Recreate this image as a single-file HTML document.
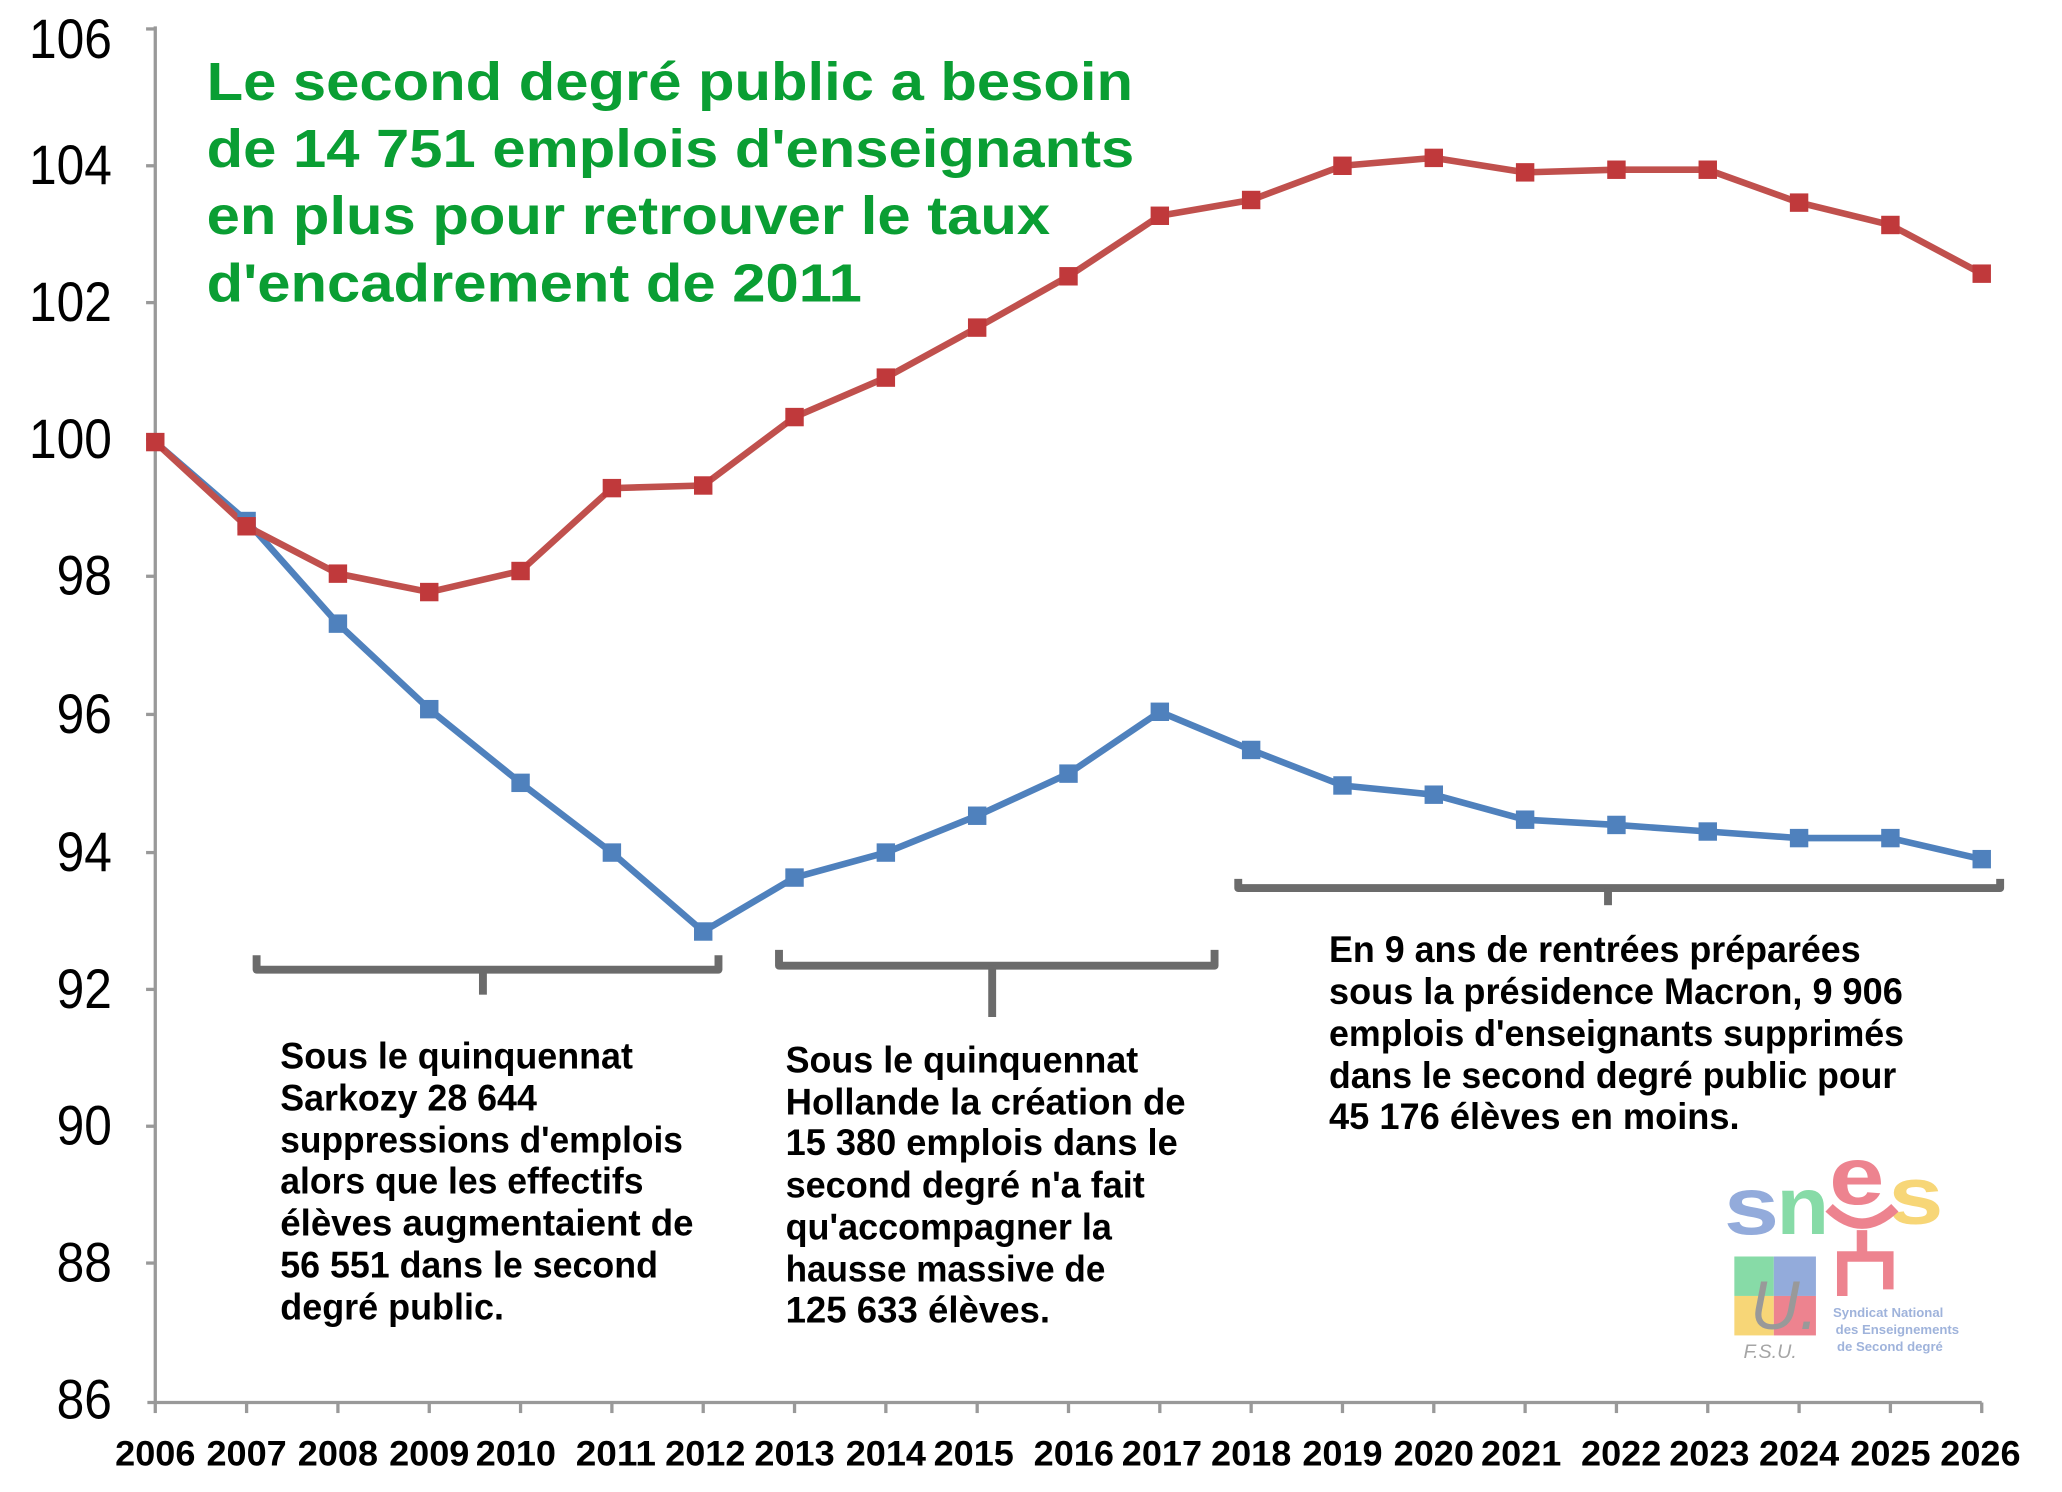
<!DOCTYPE html>
<html><head><meta charset="utf-8"><style>
html,body{margin:0;padding:0;background:#fff;}
svg{display:block;}
text{font-family:"Liberation Sans",sans-serif;}
</style></head><body>
<svg width="2062" height="1492" viewBox="0 0 1567 1134" preserveAspectRatio="none" xmlns="http://www.w3.org/2000/svg">
<rect width="1567" height="1134" fill="#fff"/>
<g stroke="#999" stroke-width="2.5" fill="none">
<line x1="118" y1="20" x2="118" y2="1066"/>
<line x1="112" y1="1066" x2="1506" y2="1066"/>
<line x1="111" y1="22" x2="118" y2="22"/><line x1="111" y1="126" x2="118" y2="126"/><line x1="111" y1="230" x2="118" y2="230"/>
<line x1="111" y1="334" x2="118" y2="334"/><line x1="111" y1="438" x2="118" y2="438"/><line x1="111" y1="543" x2="118" y2="543"/>
<line x1="111" y1="648" x2="118" y2="648"/><line x1="111" y1="752" x2="118" y2="752"/><line x1="111" y1="856" x2="118" y2="856"/>
<line x1="111" y1="960" x2="118" y2="960"/>
</g>
<g font-size="42" fill="#000" text-anchor="end">
<text x="85" y="44" textLength="63" lengthAdjust="spacingAndGlyphs">106</text>
<text x="85" y="140" textLength="63" lengthAdjust="spacingAndGlyphs">104</text>
<text x="85" y="244" textLength="63" lengthAdjust="spacingAndGlyphs">102</text>
<text x="85" y="348" textLength="63" lengthAdjust="spacingAndGlyphs">100</text>
<text x="85" y="452" textLength="42" lengthAdjust="spacingAndGlyphs">98</text>
<text x="85" y="557" textLength="42" lengthAdjust="spacingAndGlyphs">96</text>
<text x="85" y="662" textLength="42" lengthAdjust="spacingAndGlyphs">94</text>
<text x="85" y="766" textLength="42" lengthAdjust="spacingAndGlyphs">92</text>
<text x="85" y="870" textLength="42" lengthAdjust="spacingAndGlyphs">90</text>
<text x="85" y="974" textLength="42" lengthAdjust="spacingAndGlyphs">88</text>
<text x="85" y="1078" textLength="42" lengthAdjust="spacingAndGlyphs">86</text>
</g>
<g stroke="#999" stroke-width="2.5">
<line x1="118" y1="1066" x2="118" y2="1074"/><line x1="187.4" y1="1066" x2="187.4" y2="1074"/><line x1="256.8" y1="1066" x2="256.8" y2="1074"/><line x1="326.2" y1="1066" x2="326.2" y2="1074"/><line x1="395.6" y1="1066" x2="395.6" y2="1074"/><line x1="465" y1="1066" x2="465" y2="1074"/><line x1="534.4" y1="1066" x2="534.4" y2="1074"/><line x1="603.8" y1="1066" x2="603.8" y2="1074"/><line x1="673.2" y1="1066" x2="673.2" y2="1074"/><line x1="742.6" y1="1066" x2="742.6" y2="1074"/><line x1="812" y1="1066" x2="812" y2="1074"/><line x1="881.4" y1="1066" x2="881.4" y2="1074"/><line x1="950.8" y1="1066" x2="950.8" y2="1074"/><line x1="1020.2" y1="1066" x2="1020.2" y2="1074"/><line x1="1089.6" y1="1066" x2="1089.6" y2="1074"/><line x1="1159" y1="1066" x2="1159" y2="1074"/><line x1="1228.4" y1="1066" x2="1228.4" y2="1074"/><line x1="1297.8" y1="1066" x2="1297.8" y2="1074"/><line x1="1367.2" y1="1066" x2="1367.2" y2="1074"/><line x1="1436.6" y1="1066" x2="1436.6" y2="1074"/><line x1="1506" y1="1066" x2="1506" y2="1074"/>
</g>
<g font-size="27" font-weight="bold" fill="#000" text-anchor="middle">
<text x="118" y="1114" textLength="61" lengthAdjust="spacingAndGlyphs">2006</text><text x="187.4" y="1114" textLength="61" lengthAdjust="spacingAndGlyphs">2007</text><text x="256.8" y="1114" textLength="61" lengthAdjust="spacingAndGlyphs">2008</text><text x="326.2" y="1114" textLength="61" lengthAdjust="spacingAndGlyphs">2009</text><text x="392" y="1114" textLength="61" lengthAdjust="spacingAndGlyphs">2010</text><text x="468" y="1114" textLength="61" lengthAdjust="spacingAndGlyphs">2011</text><text x="536" y="1114" textLength="61" lengthAdjust="spacingAndGlyphs">2012</text><text x="603.8" y="1114" textLength="61" lengthAdjust="spacingAndGlyphs">2013</text><text x="673.2" y="1114" textLength="61" lengthAdjust="spacingAndGlyphs">2014</text><text x="740" y="1114" textLength="61" lengthAdjust="spacingAndGlyphs">2015</text><text x="816" y="1114" textLength="61" lengthAdjust="spacingAndGlyphs">2016</text><text x="883" y="1114" textLength="61" lengthAdjust="spacingAndGlyphs">2017</text><text x="950.8" y="1114" textLength="61" lengthAdjust="spacingAndGlyphs">2018</text><text x="1020.2" y="1114" textLength="61" lengthAdjust="spacingAndGlyphs">2019</text><text x="1089.6" y="1114" textLength="61" lengthAdjust="spacingAndGlyphs">2020</text><text x="1156" y="1114" textLength="61" lengthAdjust="spacingAndGlyphs">2021</text><text x="1232" y="1114" textLength="61" lengthAdjust="spacingAndGlyphs">2022</text><text x="1299" y="1114" textLength="61" lengthAdjust="spacingAndGlyphs">2023</text><text x="1367.2" y="1114" textLength="61" lengthAdjust="spacingAndGlyphs">2024</text><text x="1436.6" y="1114" textLength="61" lengthAdjust="spacingAndGlyphs">2025</text><text x="1505" y="1114" textLength="61" lengthAdjust="spacingAndGlyphs">2026</text>
</g>
<g font-size="41" font-weight="bold" fill="#0a9e33">
<text x="157" y="76" textLength="704" lengthAdjust="spacingAndGlyphs">Le second degré public a besoin</text>
<text x="157" y="127" textLength="705" lengthAdjust="spacingAndGlyphs">de 14 751 emplois d'enseignants</text>
<text x="157" y="178" textLength="641" lengthAdjust="spacingAndGlyphs">en plus pour retrouver le taux</text>
<text x="157" y="229" textLength="498" lengthAdjust="spacingAndGlyphs">d'encadrement de 2011</text>
</g>
<g stroke="#6b6b6b" stroke-width="6" fill="none" stroke-linejoin="round">
<path d="M195 726 V737 H546 V726"/><path d="M367 737 V756"/>
<path d="M592 722 V734 H923 V722"/><path d="M754 734 V773"/>
<path d="M941 668 V675 H1520 V668"/><path d="M1222 675 V688"/>
</g>
<g fill="none" stroke-width="5" stroke-linejoin="round">
<polyline stroke="#4f81bd" points="118,336 187.4,396 256.8,474 326.2,539 395.6,595 465,648 534.4,708 603.8,667 673.2,648 742.6,620 812,588 881.4,541 950.8,570 1020.2,597 1089.6,604 1159,623 1228.4,627 1297.8,632 1367.2,637 1436.6,637 1506,653"/>
<polyline stroke="#c0504d" points="118,336 187.4,400 256.8,436 326.2,450 395.6,434 465,371 534.4,369 603.8,317 673.2,287 742.6,249 812,210 881.4,164 950.8,152 1020.2,126 1089.6,120 1159,131 1228.4,129 1297.8,129 1367.2,154 1436.6,171 1506,208"/>
</g>
<g fill="#4f81bd">
<rect x="180.4" y="389" width="14" height="14"/><rect x="249.8" y="467" width="14" height="14"/><rect x="319.2" y="532" width="14" height="14"/><rect x="388.6" y="588" width="14" height="14"/><rect x="458" y="641" width="14" height="14"/><rect x="527.4" y="701" width="14" height="14"/><rect x="596.8" y="660" width="14" height="14"/><rect x="666.2" y="641" width="14" height="14"/><rect x="735.6" y="613" width="14" height="14"/><rect x="805" y="581" width="14" height="14"/><rect x="874.4" y="534" width="14" height="14"/><rect x="943.8" y="563" width="14" height="14"/><rect x="1013.2" y="590" width="14" height="14"/><rect x="1082.6" y="597" width="14" height="14"/><rect x="1152" y="616" width="14" height="14"/><rect x="1221.4" y="620" width="14" height="14"/><rect x="1290.8" y="625" width="14" height="14"/><rect x="1360.2" y="630" width="14" height="14"/><rect x="1429.6" y="630" width="14" height="14"/><rect x="1499" y="646" width="14" height="14"/>
</g>
<g fill="#c0393b">
<rect x="111" y="329" width="14" height="14"/><rect x="180.4" y="393" width="14" height="14"/><rect x="249.8" y="429" width="14" height="14"/><rect x="319.2" y="443" width="14" height="14"/><rect x="388.6" y="427" width="14" height="14"/><rect x="458" y="364" width="14" height="14"/><rect x="527.4" y="362" width="14" height="14"/><rect x="596.8" y="310" width="14" height="14"/><rect x="666.2" y="280" width="14" height="14"/><rect x="735.6" y="242" width="14" height="14"/><rect x="805" y="203" width="14" height="14"/><rect x="874.4" y="157" width="14" height="14"/><rect x="943.8" y="145" width="14" height="14"/><rect x="1013.2" y="119" width="14" height="14"/><rect x="1082.6" y="113" width="14" height="14"/><rect x="1152" y="124" width="14" height="14"/><rect x="1221.4" y="122" width="14" height="14"/><rect x="1290.8" y="122" width="14" height="14"/><rect x="1360.2" y="147" width="14" height="14"/><rect x="1429.6" y="164" width="14" height="14"/><rect x="1499" y="201" width="14" height="14"/>
</g>
<g font-size="28" font-weight="bold" fill="#000">
<text x="213" y="812" textLength="268" lengthAdjust="spacingAndGlyphs">Sous le quinquennat</text>
<text x="213" y="844" textLength="195" lengthAdjust="spacingAndGlyphs">Sarkozy 28 644</text>
<text x="213" y="876" textLength="306" lengthAdjust="spacingAndGlyphs">suppressions d'emplois</text>
<text x="213" y="907" textLength="276" lengthAdjust="spacingAndGlyphs">alors que les effectifs</text>
<text x="213" y="939" textLength="314" lengthAdjust="spacingAndGlyphs">élèves augmentaient de</text>
<text x="213" y="971" textLength="287" lengthAdjust="spacingAndGlyphs">56 551 dans le second</text>
<text x="213" y="1003" textLength="170" lengthAdjust="spacingAndGlyphs">degré public.</text>
<text x="597" y="815" textLength="268" lengthAdjust="spacingAndGlyphs">Sous le quinquennat</text>
<text x="597" y="847" textLength="304" lengthAdjust="spacingAndGlyphs">Hollande la création de</text>
<text x="597" y="878" textLength="298" lengthAdjust="spacingAndGlyphs">15 380 emplois dans le</text>
<text x="597" y="910" textLength="273" lengthAdjust="spacingAndGlyphs">second degré n'a fait</text>
<text x="597" y="942" textLength="248" lengthAdjust="spacingAndGlyphs">qu'accompagner la</text>
<text x="597" y="974" textLength="243" lengthAdjust="spacingAndGlyphs">hausse massive de</text>
<text x="597" y="1005" textLength="201" lengthAdjust="spacingAndGlyphs">125 633 élèves.</text>
<text x="1010" y="731" textLength="404" lengthAdjust="spacingAndGlyphs">En 9 ans de rentrées préparées</text>
<text x="1010" y="763" textLength="436" lengthAdjust="spacingAndGlyphs">sous la présidence Macron, 9 906</text>
<text x="1010" y="795" textLength="437" lengthAdjust="spacingAndGlyphs">emplois d'enseignants supprimés</text>
<text x="1010" y="827" textLength="431" lengthAdjust="spacingAndGlyphs">dans le second degré public pour</text>
<text x="1010" y="858" textLength="312" lengthAdjust="spacingAndGlyphs">45 176 élèves en moins.</text>
</g>
<g opacity="0.75">
<text x="1310" y="938" font-size="62" font-weight="bold" fill="#6f8fcf" textLength="42" lengthAdjust="spacingAndGlyphs">s</text>
<text x="1350" y="938" font-size="62" font-weight="bold" fill="#5fcf8a" textLength="40" lengthAdjust="spacingAndGlyphs">n</text>
<text x="1390" y="915" font-size="62" font-weight="bold" fill="#e85a6a" textLength="42" lengthAdjust="spacingAndGlyphs">e</text>
<text x="1435" y="930" font-size="62" font-weight="bold" fill="#f5c94a" textLength="42" lengthAdjust="spacingAndGlyphs">s</text>
<path d="M1390 918 Q1415 942 1440 918 M1415 935 V955 M1400 985 V955 H1435 V980" stroke="#e85a6a" stroke-width="8" fill="none"/>
<rect x="1318" y="955" width="30" height="30" fill="#5fcf8a"/><rect x="1348" y="955" width="32" height="30" fill="#6f8fcf"/>
<rect x="1318" y="985" width="30" height="30" fill="#f5c94a"/><rect x="1348" y="985" width="32" height="30" fill="#e85a6a"/>
<text x="1330" y="1010" font-size="52" font-style="italic" font-family="Liberation Serif" fill="#777">U.</text>
<text x="1325" y="1032" font-size="15" font-style="italic" font-family="Liberation Serif" fill="#888">F.S.U.</text>
<g font-size="10" font-weight="bold" fill="#7f9ad0"><text x="1393" y="1001">Syndicat National</text><text x="1395" y="1014">des Enseignements</text><text x="1396" y="1027">de Second degré</text></g>
</g>
</svg>
</body></html>
